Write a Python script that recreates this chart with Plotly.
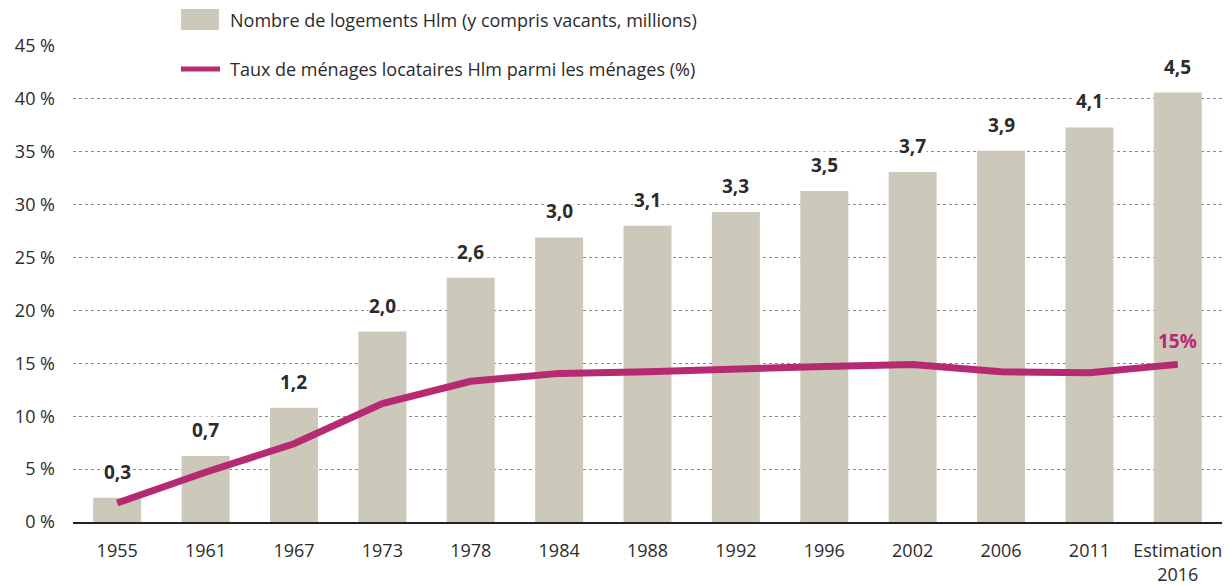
import plotly.graph_objects as go

categories = ["1955", "1961", "1967", "1973", "1978", "1984", "1988", "1992",
              "1996", "2002", "2006", "2011", "Estimation<br>2016"]
# Bar heights read on the % axis (bars drawn on the same scale)
bar_heights = [2.3, 6.25, 10.8, 18.0, 23.1, 26.9, 28.0, 29.3, 31.3, 33.1, 35.1, 37.3, 40.6]
# Labels of bars: number of Hlm dwellings (millions)
bar_labels = ["0,3", "0,7", "1,2", "2,0", "2,6", "3,0", "3,1", "3,3", "3,5", "3,7", "3,9", "4,1", "4,5"]
# Share of Hlm tenant households (%)
line_values = [1.8, 4.7, 7.4, 11.2, 13.3, 14.05, 14.2, 14.5, 14.7, 14.9, 14.2, 14.1, 14.9]
last_label = "15%"

y_ticks = [0, 5, 10, 15, 20, 25, 30, 35, 40, 45]
y_ticktext = [f"{v} %" for v in y_ticks]
legend_bar = "Nombre de logements Hlm (y compris vacants, millions)"
legend_line = "Taux de ménages locataires Hlm parmi les ménages (%)"

BAR_COLOR = "#ccc9bb"
LINE_COLOR = "#b52a70"
TEXT_COLOR = "#2b2b2b"
FONT = "'Open Sans', Lato, sans-serif"

fig = go.Figure()
fig.add_trace(go.Bar(x=categories, y=bar_heights, marker_color=BAR_COLOR,
                     marker_line_width=0, showlegend=False, hoverinfo="skip"))
fig.add_trace(go.Scatter(x=categories, y=line_values, mode="lines",
                         line=dict(color=LINE_COLOR, width=7), showlegend=False,
                         hoverinfo="skip"))

annotations = []
for i, (h, t) in enumerate(zip(bar_heights, bar_labels)):
    annotations.append(dict(x=i, y=h, xref="x", yref="y", text=t, showarrow=False,
                            yanchor="bottom", yshift=12, bgcolor="white", borderpad=0,
                            font=dict(family=FONT, size=19, color=TEXT_COLOR, weight="bold")))
annotations.append(dict(x=len(categories) - 1, y=line_values[-1], xref="x", yref="y",
                        text=last_label, showarrow=False, yanchor="bottom", yshift=8,
                        font=dict(family=FONT, size=19, color=LINE_COLOR, weight="bold")))

# Legend (custom)
annotations.append(dict(x=0.1349, y=1.0546, xref="paper", yref="paper", text=legend_bar,
                        showarrow=False, xanchor="left", yanchor="middle",
                        font=dict(family=FONT, size=18, color=TEXT_COLOR)))
annotations.append(dict(x=0.1349, y=0.9517, xref="paper", yref="paper", text=legend_line,
                        showarrow=False, xanchor="left", yanchor="middle",
                        font=dict(family=FONT, size=18, color=TEXT_COLOR)))

shapes = [
    # white cover behind legend over the 45% gridline
    dict(type="rect", xref="paper", yref="paper", x0=0.0566, x1=0.565, y0=0.985, y1=1.012,
         fillcolor="white", line_width=0, layer="above"),
    # bar swatch
    dict(type="rect", xref="paper", yref="paper", x0=0.094, x1=0.127, y0=1.0336, y1=1.0777,
         fillcolor=BAR_COLOR, line_width=0, layer="above"),
    # line swatch
    dict(type="rect", xref="paper", yref="paper", x0=0.094, x1=0.128, y0=0.9465, y1=0.957,
         fillcolor=LINE_COLOR, line_width=0, layer="above"),
]

# The page body has an 8px margin: compensate so the plot lands where it should.
fig.update_layout(
    width=1223, height=577,
    margin=dict(l=65, r=9, t=38, b=63, autoexpand=False),
    paper_bgcolor="white", plot_bgcolor="white",
    bargap=0.457,
    font=dict(family=FONT, size=17, color=TEXT_COLOR),
    annotations=annotations, shapes=shapes,
    showlegend=False,
)
fig.update_yaxes(range=[0, 45], tickmode="array", tickvals=y_ticks, ticktext=y_ticktext,
                 showgrid=True, gridcolor="#8a8a8a", griddash="dot", gridwidth=1,
                 zeroline=False, showline=False, ticks="", ticklabelstandoff=17,
                 automargin=False,
                 tickfont=dict(family=FONT, size=18, color=TEXT_COLOR))
fig.update_xaxes(type="category", range=[-0.5, len(categories) - 0.5],
                 showgrid=False, showline=True, linecolor="#222", automargin=False,
                 linewidth=1.5, ticks="", ticklabelstandoff=12,
                 tickfont=dict(family=FONT, size=18, color=TEXT_COLOR))

fig.write_html("out.html")
